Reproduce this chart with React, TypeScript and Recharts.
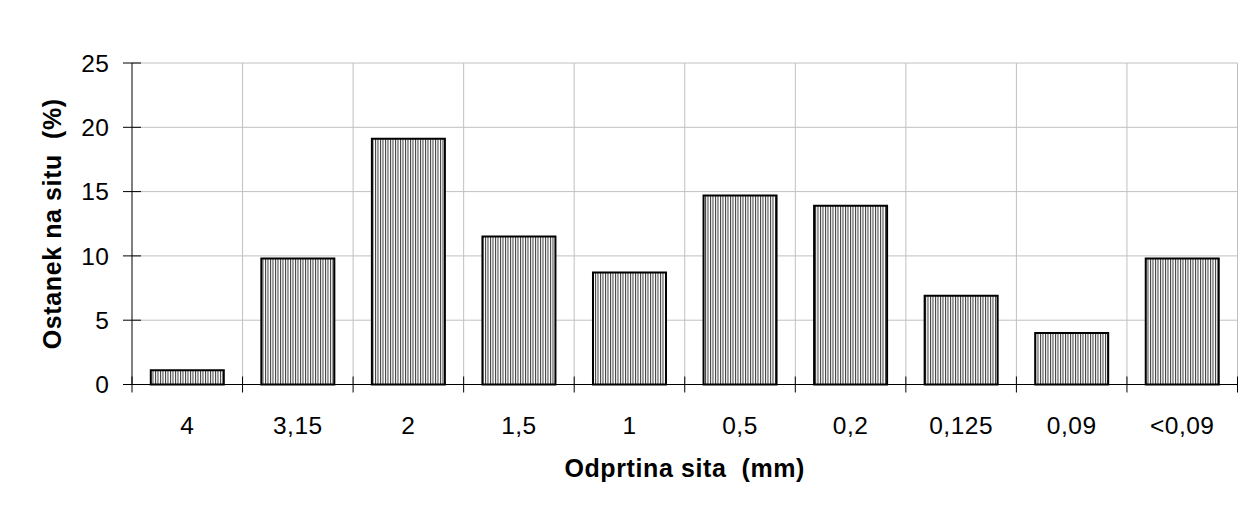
import { BarChart, Bar, XAxis, YAxis, CartesianGrid, Label } from "recharts";

// sieve openings (mm) and retained share (%)
const sieves = ["4", "3,15", "2", "1,5", "1", "0,5", "0,2", "0,125", "0,09", "<0,09"];
const retained = [1.1, 9.8, 19.1, 11.5, 8.7, 14.7, 13.9, 6.9, 4.0, 9.8];
const yTicks = [0, 5, 10, 15, 20, 25];

const data = sieves.map((name, i) => ({ name, value: retained[i] }));

const W = 1253;
const H = 513;
const MARGIN = { top: 63, right: 15.5, bottom: 0.5, left: 0 };
const Y_AXIS_W = 132;
const X_AXIS_H = 128;
const PLOT_L = MARGIN.left + Y_AXIS_W;
const PLOT_R = W - MARGIN.right;
const PLOT_T = MARGIN.top;
const PLOT_B = H - MARGIN.bottom - X_AXIS_H;
const BAND = (PLOT_R - PLOT_L) / sieves.length;
const FONT = "'Liberation Sans', Arial, sans-serif";

// category ticks sit on the band edges and cross the axis, labels in the middle
function XTick(props: any) {
  const { payload, index } = props;
  const cx = payload.coordinate ?? props.x;
  const left = cx - BAND / 2;
  return (
    <g>
      <line x1={left} x2={left} y1={PLOT_B - 8} y2={PLOT_B + 8} stroke="#000" />
      {index === sieves.length - 1 && (
        <line x1={left + BAND} x2={left + BAND} y1={PLOT_B - 8} y2={PLOT_B + 8} stroke="#000" />
      )}
      <text
        x={cx}
        y={PLOT_B + 49.5}
        textAnchor="middle"
        fontSize={24.5}
        letterSpacing={0.5}
        fontFamily={FONT}
        fill="#000"
      >
        {payload.value}
      </text>
    </g>
  );
}

function YTick(props: any) {
  const { payload } = props;
  const y = payload.coordinate ?? props.y;
  return (
    <g>
      <line x1={PLOT_L - 9} x2={PLOT_L + 9} y1={y} y2={y} stroke="#000" />
      <text
        x={PLOT_L - 22.5}
        y={y + 8.7}
        textAnchor="end"
        fontSize={24.5}
        letterSpacing={0.5}
        fontFamily={FONT}
        fill="#000"
      >
        {payload.value}
      </text>
    </g>
  );
}

const titleStyle = {
  fontSize: 25,
  fontWeight: "bold" as const,
  letterSpacing: 0.6,
  fontFamily: FONT,
  fill: "#000",
};

export default function App() {
  return (
    <div style={{ position: "relative", width: W, height: H, margin: -8, background: "#fff" }}>
      <div style={{ position: "absolute", left: 0, top: 0 }}>
        <BarChart width={W} height={H} data={data} margin={MARGIN} barCategoryGap="17%">
          <defs>
            <pattern id="hatch" width="2.5" height="4" patternUnits="userSpaceOnUse">
              <rect width="2.5" height="4" fill="#fff" />
              <rect width="1" height="4" fill="#3a3a3a" />
            </pattern>
          </defs>
          {/* outer frame: only top and left edges fall inside the picture */}
          <line x1={7} y1={6} x2={W} y2={6} stroke="#1a1a1a" strokeWidth={2} />
          <line x1={7} y1={6} x2={7} y2={H} stroke="#1a1a1a" strokeWidth={2} />
          <CartesianGrid
            stroke="#c0c0c0"
            verticalCoordinatesGenerator={() => sieves.map((_, i) => PLOT_L + BAND * (i + 1))}
          />
          <XAxis
            dataKey="name"
            height={X_AXIS_H}
            axisLine={{ stroke: "#000" }}
            tickLine={false}
            interval={0}
            tick={<XTick />}
          >
            <Label
              content={() => (
                <text
                  x={(PLOT_L + PLOT_R) / 2}
                  y={PLOT_B + 92}
                  textAnchor="middle"
                  style={titleStyle}
                >
                  Odprtina sita{"\u00A0 "}(mm)
                </text>
              )}
            />
          </XAxis>
          <YAxis
            width={Y_AXIS_W}
            domain={[0, 25]}
            ticks={yTicks}
            interval={0}
            axisLine={{ stroke: "#000" }}
            tickLine={false}
            tick={<YTick />}
          >
            <Label
              content={() => (
                <text
                  transform={`translate(61, ${(PLOT_T + PLOT_B) / 2}) rotate(-90)`}
                  textAnchor="middle"
                  style={titleStyle}
                >
                  Ostanek na situ{"\u00A0 "}(%)
                </text>
              )}
            />
          </YAxis>
          <Bar
            dataKey="value"
            fill="url(#hatch)"
            stroke="#000"
            strokeWidth={2}
            isAnimationActive={false}
          />
        </BarChart>
      </div>
    </div>
  );
}
